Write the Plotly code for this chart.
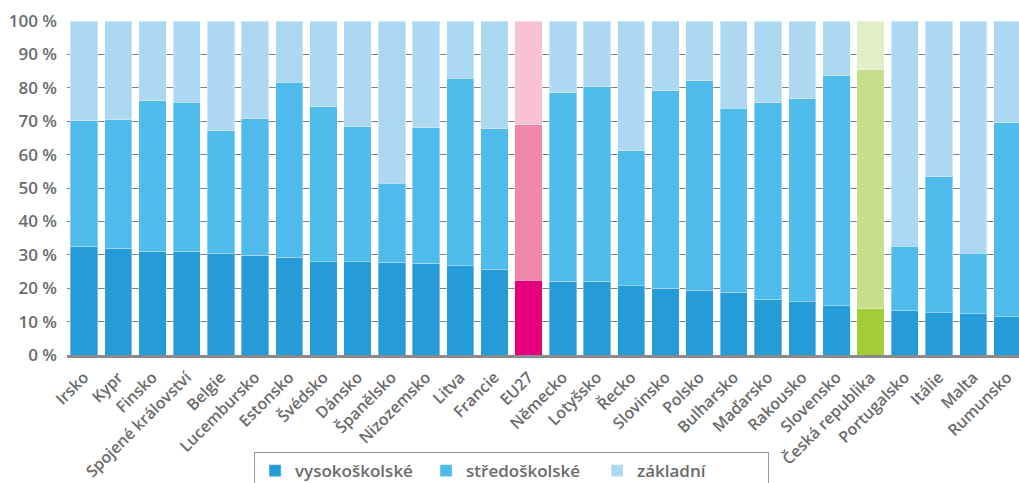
import plotly.graph_objects as go

countries = ["Irsko", "Kypr", "Finsko", "Spojené království", "Belgie", "Lucembursko",
             "Estonsko", "Švédsko", "Dánsko", "Španělsko", "Nizozemsko", "Litva", "Francie",
             "EU27", "Německo", "Lotyšsko", "Řecko", "Slovinsko", "Polsko", "Bulharsko",
             "Maďarsko", "Rakousko", "Slovensko", "Česká republika", "Portugalsko", "Itálie",
             "Malta", "Rumunsko"]
vysokoskolske = [32.5, 32.0, 31.0, 31.0, 30.5, 29.9, 29.3, 27.9, 27.9, 27.8, 27.4, 26.7, 25.7,
                 22.4, 22.1, 22.1, 20.7, 20.0, 19.4, 18.8, 16.7, 15.9, 14.7, 14.0, 13.4, 12.6,
                 12.3, 11.4]
stredoskolske = [37.6, 38.5, 45.1, 44.7, 36.7, 40.8, 52.3, 46.4, 40.5, 23.6, 40.7, 56.2, 42.1,
                 46.6, 56.4, 58.2, 40.5, 59.1, 62.7, 55.1, 58.8, 60.8, 68.9, 71.4, 19.1, 40.8,
                 18.1, 58.2]
zakladni = [29.9, 29.5, 23.9, 24.3, 32.8, 29.3, 18.4, 25.7, 31.6, 48.6, 31.9, 17.1, 32.2,
            31.0, 21.5, 19.7, 38.8, 20.9, 17.9, 26.1, 24.5, 23.3, 16.4, 14.6, 67.5, 46.6,
            69.6, 30.4]
series_names = ["vysokoškolské", "středoškolské", "základní"]
y_ticks = [0, 10, 20, 30, 40, 50, 60, 70, 80, 90, 100]
y_labels = [f"{v} %" for v in y_ticks]

base_colors = ["#259cd8", "#4fbbea", "#add8f2"]
eu_colors = ["#e6007e", "#f287ae", "#f8c2d3"]
cz_colors = ["#a3cc39", "#c8de8a", "#e1eec6"]

def colors_for(i):
    out = []
    for c in countries:
        if c == "EU27":
            out.append(eu_colors[i])
        elif c == "Česká republika":
            out.append(cz_colors[i])
        else:
            out.append(base_colors[i])
    return out

font_family = "Open Sans, Noto Sans, sans-serif"
text_color = "#6b6b6b"

fig = go.Figure()
for i, (name, vals) in enumerate(zip(series_names, [vysokoskolske, stredoskolske, zakladni])):
    fig.add_trace(go.Bar(
        x=countries, y=vals, name=name,
        marker=dict(color=colors_for(i), line=dict(color="rgba(255,255,255,0.35)", width=1)),
    ))

fig.update_layout(
    barmode="stack",
    bargap=0.2,
    width=1019, height=483,
    margin=dict(l=67, r=0, t=20, b=128, autoexpand=False),
    plot_bgcolor="white", paper_bgcolor="white",
    font=dict(family=font_family, color=text_color, size=15, weight=600),
    showlegend=True,
    legend=dict(
        orientation="h", xref="container", yref="container",
        x=0.502, xanchor="center", y=0.064, yanchor="top",
        bordercolor="#9a9a9a", borderwidth=1,
        font=dict(size=17, color=text_color, family=font_family, weight=600),
        entrywidth=126, entrywidthmode="pixels",
        traceorder="normal",
    ),
    xaxis=dict(
        range=[-0.5, 27.34], tickangle=-45, showgrid=False, automargin=False,
        showline=True, linecolor="#8a8a8a", linewidth=2.5,
        ticks="", ticklabelstandoff=4, ticklabeloverflow="allow",
        tickfont=dict(size=16, color=text_color, family=font_family, weight=600),
    ),
    yaxis=dict(
        range=[0, 100.3], tickvals=y_ticks, ticktext=y_labels, automargin=False,
        showgrid=True, gridcolor="#7f7f7f", gridwidth=1,
        zeroline=False, showline=False, ticks="", ticklabelstandoff=9,
        ticklabeloverflow="allow",
        tickfont=dict(size=17, color=text_color, family=font_family, weight=600),
    ),
)

fig.write_html(
    "out.html",
    config={"displayModeBar": False},
    post_script="document.body.style.margin='0';document.body.style.overflow='hidden';",
)
